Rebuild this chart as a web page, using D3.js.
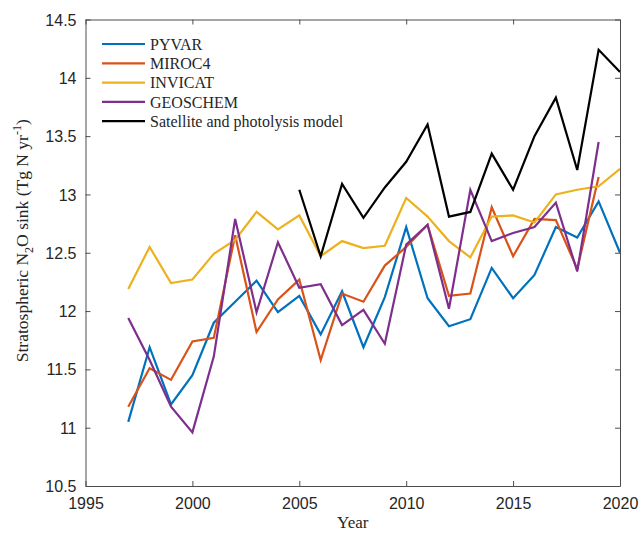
<!DOCTYPE html>
<html>
<head>
<meta charset="utf-8">
<script src="https://cdn.jsdelivr.net/npm/d3@7"></script>
<style>
body{margin:0;background:#fff}
svg text{fill:#262626}
</style>
</head>
<body>
<svg id="chart" width="642" height="534"></svg>
<script>
// data
years=[1997,1998,1999,2000,2001,2002,2003,2004,2005,2006,2007,2008,2009,2010,2011,2012,2013,2014,2015,2016,2017,2018,2019,2020]
pyvar=[11.05,11.69,11.20,11.45,11.90,12.08,12.26,11.99,12.13,11.80,12.17,11.69,12.12,12.72,12.11,11.87,11.93,12.37,12.11,12.31,12.72,12.63,12.94,12.50]
miroc4=[11.18,11.51,11.41,11.74,11.77,12.65,11.82,12.10,12.27,11.58,12.15,12.08,12.39,12.55,12.74,12.13,12.15,12.89,12.47,12.79,12.78,12.36,13.15,null]
invicat=[12.19,12.55,12.24,12.27,12.49,12.61,12.85,12.70,12.82,12.47,12.60,12.54,12.56,12.97,12.81,12.60,12.46,12.81,12.82,12.76,13.00,13.04,13.07,13.22]
geoschem=[11.94,11.58,11.18,10.96,11.61,12.79,11.99,12.59,12.20,12.23,11.88,12.01,11.72,12.57,12.74,12.02,13.04,12.60,12.67,12.72,12.93,12.34,13.45,null]
satellite=[null,null,null,null,null,null,null,null,13.04,12.47,13.09,12.80,13.06,13.28,13.60,12.81,12.85,13.35,13.04,13.50,13.83,13.21,14.24,14.05]
seriesNames=["PYVAR","MIROC4","INVICAT","GEOSCHEM","Satellite and photolysis model"]
seriesColors=["#0072BD","#D95319","#EDB120","#7E2F8E","#000000"]
xTicks=[1995,2000,2005,2010,2015,2020]
yTicks=[10.5,11,11.5,12,12.5,13,13.5,14,14.5]

var allSeries=[pyvar,miroc4,invicat,geoschem,satellite];
var svg=d3.select("#chart");
var pL=85.5,pR=620,pT=19.5,pB=486;
var x=d3.scaleLinear().domain([1995,2020]).range([pL,pR]);
var y=d3.scaleLinear().domain([10.5,14.5]).range([pB,pT]);
var axisCol="#4d4d4d";

// lines
var line=d3.line()
    .defined(function(d){return d.v!=null;})
    .x(function(d){return x(d.yr);})
    .y(function(d){return y(d.v);});

allSeries.forEach(function(s,i){
  var pts=years.map(function(yr,j){return {yr:yr,v:s[j]};});
  svg.append("path")
    .datum(pts)
    .attr("d",line)
    .attr("fill","none")
    .attr("stroke",seriesColors[i])
    .attr("stroke-width",2.2)
    .attr("stroke-linejoin","miter");
});

// axes (box with inward ticks)
var gx=svg.append("g").attr("transform","translate(0,"+pB+")")
  .call(d3.axisBottom(x).tickValues(xTicks).tickFormat(d3.format("d")).tickSizeInner(-5).tickSizeOuter(0).tickPadding(14));
var gy=svg.append("g").attr("transform","translate("+pL+",0)")
  .call(d3.axisLeft(y).tickValues(yTicks).tickFormat(function(d){return d;}).tickSizeInner(-5).tickSizeOuter(0).tickPadding(9));
var gt=svg.append("g").attr("transform","translate(0,"+pT+")")
  .call(d3.axisTop(x).tickValues(xTicks).tickFormat("").tickSizeInner(-5).tickSizeOuter(0));
var gr=svg.append("g").attr("transform","translate("+pR+",0)")
  .call(d3.axisRight(y).tickValues(yTicks).tickFormat("").tickSizeInner(-5).tickSizeOuter(0));
[gx,gy,gt,gr].forEach(function(g){
  g.selectAll("path,line").attr("stroke",axisCol).attr("stroke-width",1);
  g.selectAll("text").attr("font-family","Liberation Sans, Arial, sans-serif").attr("font-size",16).attr("fill","#262626");
});
gx.selectAll("text").attr("dy","0.55em");
gy.selectAll("text").attr("dy","0.35em");

// axis labels
svg.append("text").attr("x",(pL+pR)/2).attr("y",528)
  .attr("text-anchor","middle").attr("font-family","Liberation Serif, Times New Roman, serif").attr("font-size",17)
  .text("Year");
var yl=svg.append("text").attr("transform","translate(28,"+((pT+pB)/2-12)+") rotate(-90)")
  .attr("text-anchor","middle").attr("font-family","Liberation Serif, Times New Roman, serif").attr("font-size",17.5);
yl.append("tspan").text("Stratospheric N");
yl.append("tspan").attr("dy",5).attr("font-size",12).text("2");
yl.append("tspan").attr("dy",-5).text("O sink (Tg N yr");
yl.append("tspan").attr("dy",-7).attr("font-size",12).text("-1");
yl.append("tspan").attr("dy",7).text(")");

// legend
var lg=svg.append("g");
seriesNames.forEach(function(n,i){
  var yy=44+i*19.3;
  lg.append("line").attr("x1",102).attr("x2",145).attr("y1",yy).attr("y2",yy)
    .attr("stroke",seriesColors[i]).attr("stroke-width",2.2);
  lg.append("text").attr("x",150).attr("y",yy).attr("dy","0.35em")
    .attr("font-family","Liberation Serif, Times New Roman, serif").attr("font-size",16)
    .text(n);
});
</script>
</body>
</html>
